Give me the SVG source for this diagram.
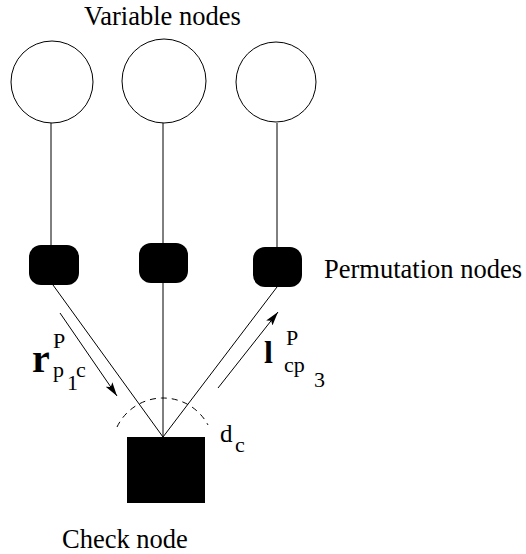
<svg xmlns="http://www.w3.org/2000/svg" width="526" height="554" viewBox="0 0 526 554">
<style>
text{font-family:'Liberation Serif','DejaVu Serif','Noto Serif',serif;fill:#000}
.lbl{font-size:26.5px}
.s{font-size:22px}
.ln{stroke:#000;stroke-width:1;fill:none}
.var{fill:#fff;stroke:#000;stroke-width:1}
.perm{fill:#000}
</style>
<defs>
<marker id="ah" viewBox="0 0 14 8" refX="14" refY="4" markerWidth="14" markerHeight="8" markerUnits="userSpaceOnUse" orient="auto">
<path d="M0,0 L14,4 L0,8 L3,4 z" fill="#000"/>
</marker>
</defs>
<rect width="526" height="554" fill="#fff"/>
<text class="lbl" style="font-family:'Liberation Serif',serif" x="84" y="25">Variable nodes</text>
<text class="lbl" style="font-family:'Liberation Serif',serif" x="324" y="278">Permutation nodes</text>
<text class="lbl" style="font-family:'Liberation Serif',serif" x="62" y="548">Check node</text>
<g id="connectors">
<line class="ln" x1="51" y1="123" x2="51" y2="246"/>
<line class="ln" x1="163" y1="122" x2="163" y2="244"/>
<line class="ln" x1="277" y1="123" x2="277" y2="248"/>
<line class="ln" x1="53" y1="285" x2="163" y2="437"/>
<line class="ln" x1="163" y1="283" x2="163" y2="437"/>
<line class="ln" x1="277" y1="287" x2="163" y2="437"/>
<line class="ln" x1="60" y1="313" x2="117" y2="396" marker-end="url(#ah)"/>
<line class="ln" x1="218" y1="388" x2="278" y2="312" marker-end="url(#ah)"/>
<path class="ln" d="M117,427 A51,51 0 0 1 208,425" stroke-dasharray="6,5"/>
</g>
<g id="var1"><circle class="var" cx="52" cy="82" r="41"/></g>
<g id="var2"><circle class="var" cx="164" cy="81" r="42"/></g>
<g id="var3"><circle class="var" cx="276" cy="82" r="40"/></g>
<g id="perm1"><rect class="perm" x="29" y="245" width="50" height="40" rx="12"/></g>
<g id="perm2"><rect class="perm" x="139" y="243" width="49" height="40" rx="12"/></g>
<g id="perm3"><rect class="perm" x="253" y="247" width="49" height="40" rx="12"/></g>
<g id="check"><rect x="127" y="437" width="78" height="66" fill="#000"/></g>
<g id="label-r">
<text x="32" y="372" font-size="40" font-weight="bold">r</text>
<text class="s" x="53" y="348">P</text>
<text class="s" x="53" y="377">p</text>
<text class="s" x="67" y="390">1</text>
<text class="s" x="76" y="377">c</text>
</g>
<g id="label-l">
<text x="264" y="363" font-size="32" font-weight="bold">l</text>
<text class="s" x="286" y="345">P</text>
<text class="s" x="284" y="372">cp</text>
<text class="s" x="314" y="387">3</text>
</g>
<g id="label-d">
<text x="220" y="442" font-size="25">d</text>
<text class="s" x="235" y="452">c</text>
</g>
</svg>
